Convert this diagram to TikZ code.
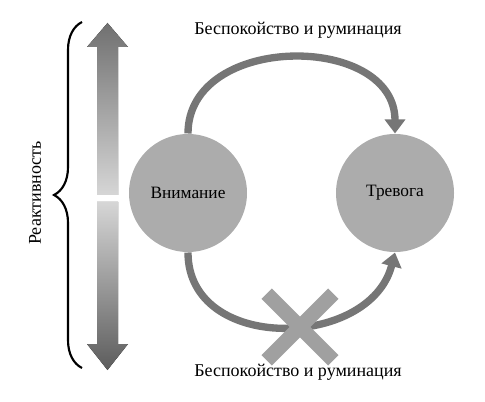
\documentclass[tikz,border=0pt]{standalone}
\usepackage{fontspec}
\setmainfont{Liberation Serif}
\usetikzlibrary{arrows.meta,decorations.pathreplacing,shapes.misc}

\definecolor{circgray}{RGB}{172,172,172}
\definecolor{loopgray}{RGB}{118,118,118}
\definecolor{crossgray}{RGB}{160,160,160}
\definecolor{shaftdark}{RGB}{112,112,112}
\definecolor{shaftlight}{RGB}{214,214,214}
\definecolor{shaftdeep}{RGB}{92,92,92}

\tikzset{
state/.style={circle, fill=circgray, minimum size=118*0.75pt, inner sep=0pt, font=\fontsize{13}{15}\selectfont},
loop/.style={draw=loopgray, line width=5.5pt, -{Triangle[width=15pt,length=10.5pt]}},
caption/.style={inner sep=0.75pt, font=\fontsize{13.5}{16}\selectfont}}
\tikzset{every picture/.style={line width=0.75pt}}

\begin{document}
\begin{tikzpicture}[x=0.75pt,y=0.75pt,yscale=-1,xscale=1]
\useasboundingbox (0,0) rectangle (485,402);

%Shape: Circle [Внимание]
\node (vnim) [state] at (188,193) {Внимание};
%Shape: Circle [Тревога]
\node (trev) [state] at (395,193) {Тревога};

%Curve Lines [top]
\draw [loop] (vnim.north) .. controls +(0,-101) and +(0,-101) .. (trev.north) ;
%Curve Lines [bottom]
\draw [loop] (vnim.south) .. controls +(0,101) and +(-25,97) .. (trev.south) ;

%Shape: Cross
\node (stopx) [cross out, draw=crossgray, line width=11pt, minimum size=52*0.75pt, inner sep=0pt] at (300,327) {};

%Shape: Arrow [upper half]
\fill [top color=shaftdark, bottom color=shaftlight] (107.5,23) -- (128,47) -- (118,47) -- (118,195) -- (97,195) -- (97,47) -- (87,47) -- cycle ;
%Shape: Arrow [lower half]
\fill [top color=shaftlight, bottom color=shaftdeep] (97,202) -- (118,202) -- (118,344) -- (128,344) -- (107.5,370) -- (87,344) -- (97,344) -- cycle ;

%Shape: Brace
\coordinate (brbot) at (82,368);
\coordinate (brtop) at (82,22);
\draw [line width=1.6pt, decorate, decoration={brace, amplitude=21pt}] (brbot) -- (brtop) ;

% Text Node
\node (topcap) [caption] at (298,30) {Беспокойство и руминация};
% Text Node
\node (botcap) [caption] at (298,372) {Беспокойство и руминация};
% Text Node
\node (react) [caption, rotate=90] at (35,193) {Реактивность};

\end{tikzpicture}
\end{document}
